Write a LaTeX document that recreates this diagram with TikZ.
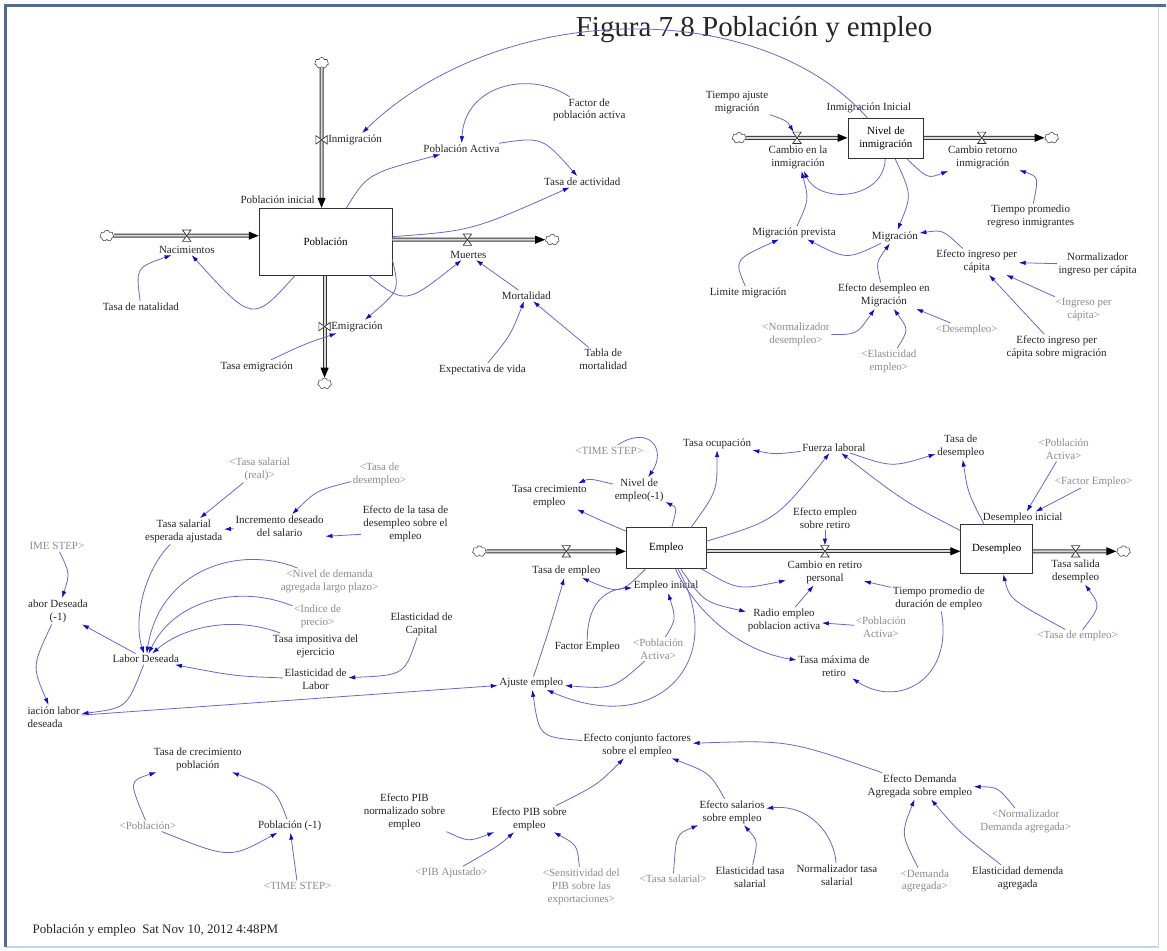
\documentclass[tikz,border=0pt]{standalone}
\usepackage{fontspec}
\setmainfont{Liberation Serif}
\usetikzlibrary{arrows.meta,shapes.symbols}
\definecolor{linkc}{RGB}{105,105,205}
\definecolor{tipc}{RGB}{15,15,195}
\definecolor{framec}{RGB}{80,108,145}
\definecolor{framel}{RGB}{190,215,235}
\newcommand{\sdfont}{\fontsize{11}{13}\selectfont}

\begin{document}
\begin{tikzpicture}[x=1pt, y=-1pt,
  var/.style={font=\sdfont, align=center, inner sep=1.5pt, text=black!85},
  shad/.style={var, text=black!45},
  stock/.style={draw=black!80, fill=white, line width=0.8pt, font=\sdfont, align=center, inner sep=0pt},
  cloudy/.style={cloud, cloud puffs=7, aspect=1.2, draw=black!70, fill=white, line width=0.6pt,
    minimum width=14pt, minimum height=11pt, inner sep=0pt},
  pipe/.style={draw=black!80, line width=1pt, double=gray!30, double distance=2pt,
    -{Triangle[length=10pt,width=8pt,color=black]}},
  valve/.style={minimum width=8pt, minimum height=11pt, inner sep=0pt},
  valveh/.style={minimum width=11pt, minimum height=8pt, inner sep=0pt},
  valvedraw/.style={draw=black!80, fill=white, line width=0.7pt},
  link/.style={draw=linkc, line width=0.8pt, -{Latex[length=7pt,width=4.5pt,color=tipc]}}]

  %% Frame
  \fill[white] (0,0) rectangle (1167,952);
  \draw[framel, line width=1.5pt] (1160,6) -- (1160,948) -- (6,948);
  \draw[framec, line width=3pt] (6,948) -- (6,6) -- (1167,6);
  \useasboundingbox (0,0) rectangle (1167,952);

  \node[font=\fontsize{29}{33}\selectfont, text=black!85] (title) at (755,30) {Figura 7.8 Población y empleo};

  %% Stocks and clouds
  \node[stock, minimum width=133pt, minimum height=67pt] (pob) at (326,242) {Población};
  \node[stock, minimum width=76pt, minimum height=40pt] (niv) at (887,139) {Nivel de\\inmigración};
  \node[stock, minimum width=80pt, minimum height=41pt] (emp) at (667,549) {Empleo};
  \node[stock, minimum width=72pt, minimum height=49pt] (des) at (998,550) {Desempleo};
  \node[cloudy] (cnac) at (107,236) {};
  \node[cloudy] (cinm) at (322,63) {};
  \node[cloudy] (cemi) at (325,384) {};
  \node[cloudy] (cmue) at (553,240) {};
  \node[cloudy] (cci) at (740,138) {};
  \node[cloudy] (ccr) at (1053,138) {};
  \node[cloudy] (cemp) at (480,552) {};
  \node[cloudy] (cdes) at (1125,552) {};

  %% Flows
  \draw[pipe] (cnac) -- (cnac -| pob.west);
  \draw[pipe] (cinm) -- (cinm |- pob.north);
  \draw[pipe] (pob.south -| cemi) -- (cemi);
  \draw[pipe] (pob.east |- cmue) -- (cmue);
  \draw[pipe] (cci) -- (cci -| niv.west);
  \draw[pipe] (niv.east |- ccr) -- (ccr);
  \draw[pipe] (cemp) -- (cemp -| emp.west);
  \draw[pipe] (emp.east |- cemp) -- (cemp -| des.west);
  \draw[pipe] (des.east |- cdes) -- (cdes);

  %% Valves
  \node[valve] (vnac) at (187,236) {};
  \node[valve] (vmue) at (468,240) {};
  \node[valve] (vci) at (798,138) {};
  \node[valve] (vcr) at (983,138) {};
  \node[valve] (vtemp) at (567,552) {};
  \node[valve] (vcret) at (826,552) {};
  \node[valve] (vtsal) at (1077,552) {};
  \node[valveh] (vinm) at (322,140) {};
  \node[valveh] (vemi) at (325,327) {};
  \foreach \v in {vnac,vmue,vci,vcr,vtemp,vcret,vtsal}
    \draw[valvedraw] (\v.north west) -- (\v.north east) -- (\v.south west) -- (\v.south east) -- cycle;
  \foreach \v in {vinm,vemi}
    \draw[valvedraw] (\v.north west) -- (\v.south west) -- (\v.north east) -- (\v.south east) -- cycle;

  %% Poblacion sector
  \node[var] (nac) at (187,250) {Nacimientos};
  \node[var, anchor=west] (inm) at (327,140) {Inmigración};
  \node[var, anchor=west] (emi) at (330,327) {Emigración};
  \node[var] (mue) at (469,255) {Muertes};
  \node[var] (pini) at (278,200) {Población inicial};
  \node[var] (tnat) at (141,307) {Tasa de natalidad};
  \node[var] (temi) at (257,367) {Tasa emigración};
  \node[var] (pact) at (462,149) {Población Activa};
  \node[var] (fpa) at (590,110) {Factor de\\población activa};
  \node[var] (tact) at (583,182) {Tasa de actividad};
  \node[var] (mort) at (527,296) {Mortalidad};
  \node[var] (expv) at (483,370) {Expectativa de vida};
  \node[var] (tmort) at (604,360) {Tabla de\\mortalidad};

  %% Migracion sector
  \node[var] (caminm) at (799,158) {Cambio en la\\inmigración};
  \node[var] (camret) at (984,158) {Cambio retorno\\inmigración};
  \node[var] (iini) at (870,108) {Inmigración Inicial};
  \node[var] (taj) at (738,103) {Tiempo ajuste\\migración};
  \node[var] (tpr) at (1032,217) {Tiempo promedio\\regreso inmigrantes};
  \node[var] (mprev) at (795,233) {Migración prevista};
  \node[var] (migr) at (896,237) {Migración};
  \node[var] (lim) at (749,293) {Limite migración};
  \node[var] (edm) at (885,296) {Efecto desempleo en\\Migración};
  \node[var] (eipc) at (978,262) {Efecto ingreso per\\cápita};
  \node[var] (nipc) at (1099,265) {Normalizador\\ingreso per cápita};
  \node[shad] (ipc) at (1085,310) {<Ingreso per\\cápita>};
  \node[shad] (sdes) at (968,330) {<Desempleo>};
  \node[shad] (sndes) at (797,335) {<Normalizador\\desempleo>};
  \node[shad] (selas) at (890,362) {<Elasticidad\\empleo>};
  \node[var] (eipm) at (1058,348) {Efecto ingreso per\\cápita sobre migración};

  %% Empleo sector
  \node[var] (temp) at (567,572) {Tasa de empleo};
  \node[var] (cret) at (826,573) {Cambio en retiro\\personal};
  \node[var] (tsal) at (1077,572) {Tasa salida\\desempleo};
  \node[var] (eer) at (826,519) {Efecto empleo\\sobre retiro};
  \node[var] (dini) at (1024,519) {Desempleo inicial};
  \node[shad] (spa1) at (1065,450) {<Población\\Activa>};
  \node[shad] (sfe) at (1095,482) {<Factor Empleo>};
  \node[var] (tdes) at (962,447) {Tasa de\\desempleo};
  \node[var] (fla) at (835,448) {Fuerza laboral};
  \node[var] (toc) at (718,444) {Tasa ocupación};
  \node[shad] (sts1) at (610,451) {<TIME STEP>};
  \node[var] (nemp) at (640,491) {Nivel de\\empleo(-1)};
  \node[var] (tce) at (550,497) {Tasa crecimiento\\empleo};
  \node[var] (eini) at (667,587) {Empleo inicial};
  \node[var] (remp) at (785,621) {Radio empleo\\poblacion activa};
  \node[shad] (spa2) at (882,628) {<Población\\Activa>};
  \node[var] (tpd) at (940,599) {Tiempo promedio de\\duración de empleo};
  \node[var] (tmr) at (835,667) {Tasa máxima de\\retiro};
  \node[shad] (ste) at (1079,637) {<Tasa de empleo>};
  \node[var] (fe) at (588,648) {Factor Empleo};
  \node[shad] (spa3) at (659,650) {<Población\\Activa>};
  \node[var] (aje) at (532,684) {Ajuste empleo};

  %% Labor sector
  \node[shad] (stsr) at (260,470) {<Tasa salarial\\(real)>};
  \node[shad] (stds) at (380,475) {<Tasa de\\desempleo>};
  \node[var] (tsea) at (184,532) {Tasa salarial\\esperada ajustada};
  \node[var] (ids) at (280,527) {Incremento deseado\\del salario};
  \node[var] (etd) at (406,524) {Efecto de la tasa de\\desempleo sobre el\\empleo};
  \node[shad] (sts2) at (57,547) {IME STEP>};
  \node[var] (ld1) at (58,612) {abor Deseada\\(-1)};
  \node[shad] (ndem) at (330,582) {<Nivel de demanda\\agregada largo plazo>};
  \node[shad] (ipre) at (318,617) {<Indice de\\precio>};
  \node[var] (timp) at (316,647) {Tasa impositiva del\\ejercicio};
  \node[var] (ecap) at (422,625) {Elasticidad de\\Capital};
  \node[var] (ld) at (146,660) {Labor Deseada};
  \node[var] (elab) at (316,680) {Elasticidad de\\Labor};
  \node[var, anchor=west, align=left] (vld) at (26,718) {iación labor\\deseada};

  \node[var] (tcp) at (198,760) {Tasa de crecimiento\\población};
  \node[shad] (spob) at (148,827) {<Población>};
  \node[var] (pob1) at (290,827) {Población (-1)};
  \node[shad] (sts3) at (298,887) {<TIME STEP>};

  %% Factores sector
  \node[var] (epn) at (405,813) {Efecto PIB\\normalizado sobre\\empleo};
  \node[var] (epib) at (530,820) {Efecto PIB sobre\\empleo};
  \node[shad] (spib) at (452,874) {<PIB Ajustado>};
  \node[shad] (ssen) at (582,888) {<Sensitividad del\\PIB sobre las\\exportaciones>};
  \node[var] (econ) at (638,746) {Efecto conjunto factores\\sobre el empleo};
  \node[var] (esal) at (733,813) {Efecto salarios\\sobre empleo};
  \node[shad] (stsal) at (674,880) {<Tasa salarial>};
  \node[var] (etsal) at (751,878) {Elasticidad tasa\\salarial};
  \node[var] (ntsal) at (838,876) {Normalizador tasa\\salarial};
  \node[var] (eda) at (921,787) {Efecto Demanda\\Agregada sobre empleo};
  \node[shad] (snda) at (1027,822) {<Normalizador\\Demanda agregada>};
  \node[shad] (sda) at (926,882) {<Demanda\\agregada>};
  \node[var] (eld) at (1019,879) {Elasticidad demenda\\agregada};

  \node[var, font=\fontsize{13}{15}\selectfont, anchor=west] (foot) at (31,932)
    {Población y empleo\ \ Sat Nov 10, 2012 4:48PM};

  %% Straight links
  \foreach \a/\b in {mort/mue, tmort/mort, nipc/eipc, ipc/eipc, eipm/eipc, sdes/edm,
                     spa1/dini, sfe/dini, tpd/cret, eer/vcret, remp/cret, spa2/remp,
                     ld/ld1, stsr/tsea, ids/tsea, sts3/pob1}
    \draw[link] (\a) -- (\b);

  %% Curved links: poblacion
  \draw[link] (tnat) .. controls (136,268) .. (nac);
  \draw[link] (pob) .. controls (253,323) .. (nac);
  \draw[link] (pob) .. controls (368,174) .. (pact);
  \draw[link] (fpa) .. controls (530,70) and (465,85) .. (pact);
  \draw[link] (pact) .. controls (543,137) .. (tact);
  \draw[link] (pob) .. controls (473,231) .. (tact);
  \draw[link] (pob) .. controls (406,305) .. (mue);
  \draw[link] (pob.-15) .. controls (400,291) .. (emi);
  \draw[link] (temi) .. controls (306,344) .. (emi);
  \draw[link] (expv) .. controls (511,336) .. (mort);
  \draw[link] (niv) .. controls (760,-5) and (500,0) .. (inm);

  %% Curved links: migracion
  \draw[link] (taj) .. controls (788,121) .. (vci);
  \draw[link] (niv) .. controls (885,200) and (820,205) .. (caminm);
  \draw[link] (mprev) .. controls (810,200) .. (caminm);
  \draw[link] (niv) .. controls (929,179) .. (camret);
  \draw[link] (tpr) .. controls (1040,177) .. (camret);
  \draw[link] (niv) .. controls (913,195) .. (migr);
  \draw[link] (migr) .. controls (848,260) .. (mprev);
  \draw[link] (lim) .. controls (735,260) .. (mprev);
  \draw[link] (edm) .. controls (877,263) .. (migr);
  \draw[link] (eipc) .. controls (944,230) .. (migr);
  \draw[link] (sndes) .. controls (858,335) .. (edm);
  \draw[link] (selas) .. controls (910,330) .. (edm);

  %% Curved links: empleo
  \draw[link] (emp) .. controls (599,520) .. (tce);
  \draw[link] (nemp) .. controls (590,479) .. (tce);
  \draw[link] (sts1) .. controls (650,425) and (668,450) .. (nemp);
  \draw[link] (emp) .. controls (678,508) .. (nemp);
  \draw[link] (emp.40) .. controls (718,492) .. (toc);
  \draw[link] (emp.10) .. controls (777,521) .. (fla);
  \draw[link] (fla) .. controls (776,455) .. (toc);
  \draw[link] (des) .. controls (905,502) .. (fla);
  \draw[link] (fla) .. controls (893,468) .. (tdes);
  \draw[link] (des) .. controls (969,493) .. (tdes);
  \draw[link] (ste) .. controls (1011,600) .. (des);
  \draw[link] (ste) .. controls (1102,607) .. (tsal);
  \draw[link] (tpd) .. controls (955,680) and (900,710) .. (tmr);
  \draw[link] (emp) .. controls (739,591) .. (cret);
  \draw[link] (emp) .. controls (705,603) .. (remp);
  \draw[link] (emp) .. controls (690,600) and (730,650) .. (tmr);
  \draw[link] (emp) .. controls (621,595) .. (temp);
  \draw[link] (fe) .. controls (588,605) and (605,590) .. (eini);
  \draw[link] (spa3) .. controls (677,620) .. (eini);
  \draw[link] (aje) .. controls (550,630) .. (temp);
  \draw[link] (spa3) .. controls (614,690) .. (aje);
  \draw[link] (emp) .. controls (730,660) and (660,740) .. (aje);
  \draw[link] (econ) .. controls (540,738) .. (aje);
  \draw[link] (vld) -- (aje);

  %% Curved links: labor
  \draw[link] (ld) .. controls (127,709) .. (vld);
  \draw[link] (sts2) .. controls (70,574) .. (ld1);
  \draw[link] (ld1) .. controls (32,667) .. (vld);
  \draw[link] (tsea) .. controls (145,570) and (133,620) .. (ld);
  \draw[link] (ndem) .. controls (240,545) and (160,570) .. (ld);
  \draw[link] (ipre) .. controls (240,585) and (175,600) .. (ld);
  \draw[link] (timp) .. controls (230,615) and (180,630) .. (ld);
  \draw[link] (elab) .. controls (235,677) .. (ld);
  \draw[link] (ecap) .. controls (405,676) .. (elab);
  \draw[link] (stds) .. controls (317,491) .. (ids);
  \draw[link] ([yshift=-11pt]etd.west) -- ([yshift=-10pt]ids.east);
  \draw[link] (spob) .. controls (129,782) .. (tcp);
  \draw[link] (pob1) .. controls (276,790) .. (tcp);
  \draw[link] (spob) .. controls (230,860) .. (pob1);

  %% Curved links: factores
  \draw[link] (epn) .. controls (469,843) .. (epib);
  \draw[link] (spib) .. controls (499,847) .. (epib);
  \draw[link] (ssen) .. controls (578,846) .. (epib);
  \draw[link] (epib) .. controls (598,786) .. (econ);
  \draw[link] (esal) .. controls (711,774) .. (econ);
  \draw[link] (stsal) .. controls (677,835) .. (esal);
  \draw[link] (etsal) .. controls (759,842) .. (esal);
  \draw[link] (ntsal) .. controls (835,835) and (810,805) .. (esal);
  \draw[link] (eda) .. controls (790,741) .. (econ);
  \draw[link] (snda) .. controls (999,788) .. (eda);
  \draw[link] (sda) .. controls (902,835) .. (eda);
  \draw[link] (eld) .. controls (960,833) .. (eda);
\end{tikzpicture}
\end{document}
